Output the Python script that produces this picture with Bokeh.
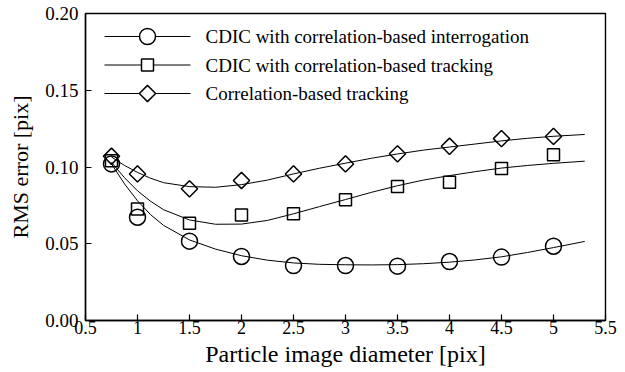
from bokeh.plotting import figure
from bokeh.models import Range1d, FixedTicker
from bokeh.core.properties import value
from bokeh.embed import file_html
from bokeh.resources import INLINE
import math

# ---- data ----
diam = [0.75, 1.0, 1.5, 2.0, 2.5, 3.0, 3.5, 4.0, 4.5, 5.0]
interrog_y = [0.102, 0.0673, 0.0517, 0.0417, 0.0358, 0.0358, 0.0354, 0.0384, 0.0413, 0.0484]
cdic_track_y = [0.104, 0.0727, 0.0634, 0.0688, 0.0695, 0.0786, 0.0873, 0.0900, 0.0990, 0.1080]
corr_track_y = [0.107, 0.0955, 0.0858, 0.0912, 0.0955, 0.1020, 0.1086, 0.1135, 0.1185, 0.1199]

# fitted curves
fit_x = [0.75, 0.875, 1.0, 1.125, 1.25, 1.5, 1.75, 2.0, 2.25, 2.5, 2.75, 3.0,
         3.25, 3.5, 3.75, 4.0, 4.25, 4.5, 4.75, 5.0, 5.3]
fit_interrog = [0.102, 0.089, 0.078, 0.069, 0.062, 0.0525, 0.0465, 0.0422, 0.0393, 0.0375,
                0.0366, 0.0363, 0.0362, 0.0364, 0.0370, 0.0380, 0.0395, 0.0415, 0.0443,
                0.0475, 0.0515]
fit_cdic_track = [0.103, 0.093, 0.0845, 0.0777, 0.0722, 0.0655, 0.0627, 0.0628, 0.0652, 0.0695,
                  0.0742, 0.0788, 0.0835, 0.0878, 0.0915, 0.0944, 0.0970, 0.0993, 0.1010,
                  0.1024, 0.1038]
fit_corr_track = [0.1065, 0.101, 0.0965, 0.0927, 0.0898, 0.0872, 0.0868, 0.0885, 0.0915, 0.0955,
                  0.0992, 0.1025, 0.1057, 0.1085, 0.1110, 0.1130, 0.1150, 0.1170, 0.1187,
                  0.1200, 0.1212]

x_ticks = [0.5, 1, 1.5, 2, 2.5, 3, 3.5, 4, 4.5, 5, 5.5]
x_tick_labels = ["0.5", "1", "1.5", "2", "2.5", "3", "3.5", "4", "4.5", "5", "5.5"]
y_ticks = [0.0, 0.05, 0.10, 0.15, 0.20]
y_tick_labels = ["0.00", "0.05", "0.10", "0.15", "0.20"]

names = ["CDIC with correlation-based interrogation",
         "CDIC with correlation-based tracking",
         "Correlation-based tracking"]

FONT = "Liberation Serif"
FRAME_W, FRAME_H = 520, 307

p = figure(frame_width=FRAME_W, frame_height=FRAME_H, output_backend="svg",
           toolbar_location=None,
           x_range=Range1d(0.5, 5.5), y_range=Range1d(0.0, 0.2),
           min_border_left=85, min_border_right=20, min_border_top=13, min_border_bottom=52)
p.background_fill_color = "white"
p.border_fill_color = "white"
p.grid.visible = False
p.outline_line_color = "black"
p.outline_line_width = 1.4

# pixel ranges for the legend keys (legend layout lives in frame pixels)
p.extra_x_ranges = {"px": Range1d(0, FRAME_W)}
p.extra_y_ranges = {"px": Range1d(0, FRAME_H)}

for ax in (p.xaxis[0], p.yaxis[0]):
    ax.axis_line_color = "black"
    ax.axis_line_width = 1.4
    ax.major_tick_in = 6
    ax.major_tick_out = 0
    ax.minor_tick_in = 0
    ax.minor_tick_out = 0
    ax.major_tick_line_color = "black"
    ax.major_tick_line_width = 1.2
    ax.major_label_text_font = FONT
    ax.major_label_text_color = "black"
    ax.axis_label_text_font = FONT
    ax.axis_label_text_font_style = "normal"
    ax.axis_label_text_color = "black"

p.xaxis[0].ticker = FixedTicker(ticks=x_ticks)
p.xaxis[0].major_label_overrides = {t: l for t, l in zip(x_ticks, x_tick_labels)}
p.xaxis[0].major_label_text_font_size = "18px"
p.xaxis[0].major_label_standoff = 0
p.xaxis[0].axis_label = "Particle image diameter [pix]"
p.xaxis[0].axis_label_text_font_size = "24px"
p.xaxis[0].axis_label_standoff = 4

p.yaxis[0].ticker = FixedTicker(ticks=y_ticks)
p.yaxis[0].major_label_overrides = {t: l for t, l in zip(y_ticks, y_tick_labels)}
p.yaxis[0].major_label_text_font_size = "19px"
p.yaxis[0].major_label_standoff = 7
p.yaxis[0].axis_label = "RMS error [pix]"
p.yaxis[0].axis_label_text_font_size = "22px"
p.yaxis[0].axis_label_standoff = 9

LW = 1.0
ML = 1.5
series = [
    (fit_interrog, interrog_y, dict(marker="circle", size=16, angle=0.0)),
    (fit_cdic_track, cdic_track_y, dict(marker="square", size=12, angle=0.0)),
    (fit_corr_track, corr_track_y, dict(marker="square", size=11.5, angle=math.pi / 4)),
]

# legend layout (frame pixels)
LEG_X0, LEG_X1, LEG_TEXT_X = 19, 105, 120
LEG_TOP, LEG_PITCH = 23, 28.5

for i, (fit_y, pts_y, mk) in enumerate(series):
    p.line(fit_x, fit_y, line_color="black", line_width=LW)
    p.scatter(diam, pts_y, fill_color=None, line_color="black", line_width=ML, **mk)

    yy = FRAME_H - (LEG_TOP + i * LEG_PITCH)
    p.line([LEG_X0, LEG_X1], [yy, yy], line_color="black", line_width=LW,
           x_range_name="px", y_range_name="px")
    p.scatter([(LEG_X0 + LEG_X1) / 2], [yy], fill_color="white", line_color="black",
              line_width=ML, x_range_name="px", y_range_name="px", **mk)
    p.text([LEG_TEXT_X], [yy], text=[names[i]], text_font=value(FONT),
           text_font_size="19px", text_baseline="middle", text_align="left",
           text_color="black", x_range_name="px", y_range_name="px")

open("out.html", "w").write(file_html(p, INLINE))
